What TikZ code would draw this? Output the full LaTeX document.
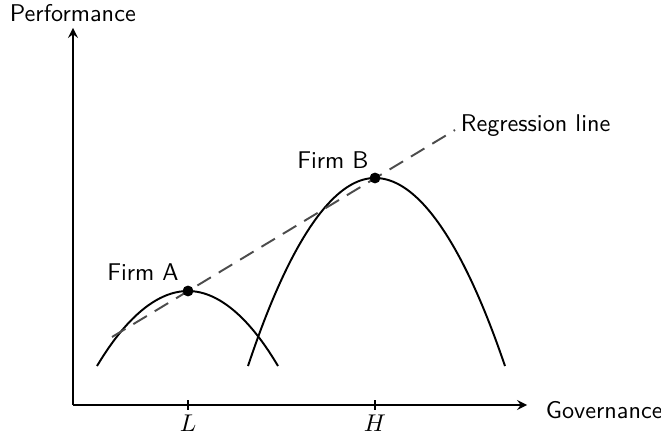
\documentclass[tikz,border=0pt]{standalone}
\begin{document}
\begin{tikzpicture}[x=0.413pt,y=-0.413pt,
  lbl/.style={font=\sffamily, inner sep=1pt},
  axis/.style={thick,-stealth},
  curve/.style={thick},
  reg/.style={thick,dashed,dash pattern=on 6.5pt off 3.8pt,black!70},
  dot/.style={circle,fill=black,inner sep=0pt,minimum size=4.5pt}]
\useasboundingbox (0,0) rectangle (661,435);
\coordinate (O) at (73,405);
\coordinate (ytop) at (73,28);
\coordinate (xend) at (527,405);
\draw[axis] (O) -- (ytop);
\draw[axis] (O) -- (xend);
\node[lbl,anchor=base west] (perf) at (7,22) {Performance};
\node[lbl,anchor=west] (gov) at (543,410) {Governance};
% ticks
\coordinate (L) at (188,405);
\coordinate (H) at (375,405);
\draw[thick] (188,400) -- (188,410);
\draw[thick] (375,400) -- (375,410);
\node[anchor=north,inner sep=1pt] (Llbl) at (188,412) {$L$};
\node[anchor=north,inner sep=1pt] (Hlbl) at (375,412) {$H$};
% parabolas
\coordinate (A) at (188,291);
\coordinate (B) at (375,178);
\draw[curve] (97,366) parabola bend (A) (278,366);
\draw[curve] (248,366) parabola bend (B) (505,366);
% regression line
\coordinate (r1) at (112,337);
\coordinate (r2) at (455,130);
\draw[reg] (r1) -- (r2);
\node[lbl,anchor=west] (reglbl) at (458,126) {Regression line};
% dots
\node[dot] (dA) at (A) {};
\node[dot] (dB) at (B) {};
\node[lbl,anchor=base] (fA) at (143,281) {Firm A};
\node[lbl,anchor=base] (fB) at (333,169) {Firm B};
\end{tikzpicture}
\end{document}
